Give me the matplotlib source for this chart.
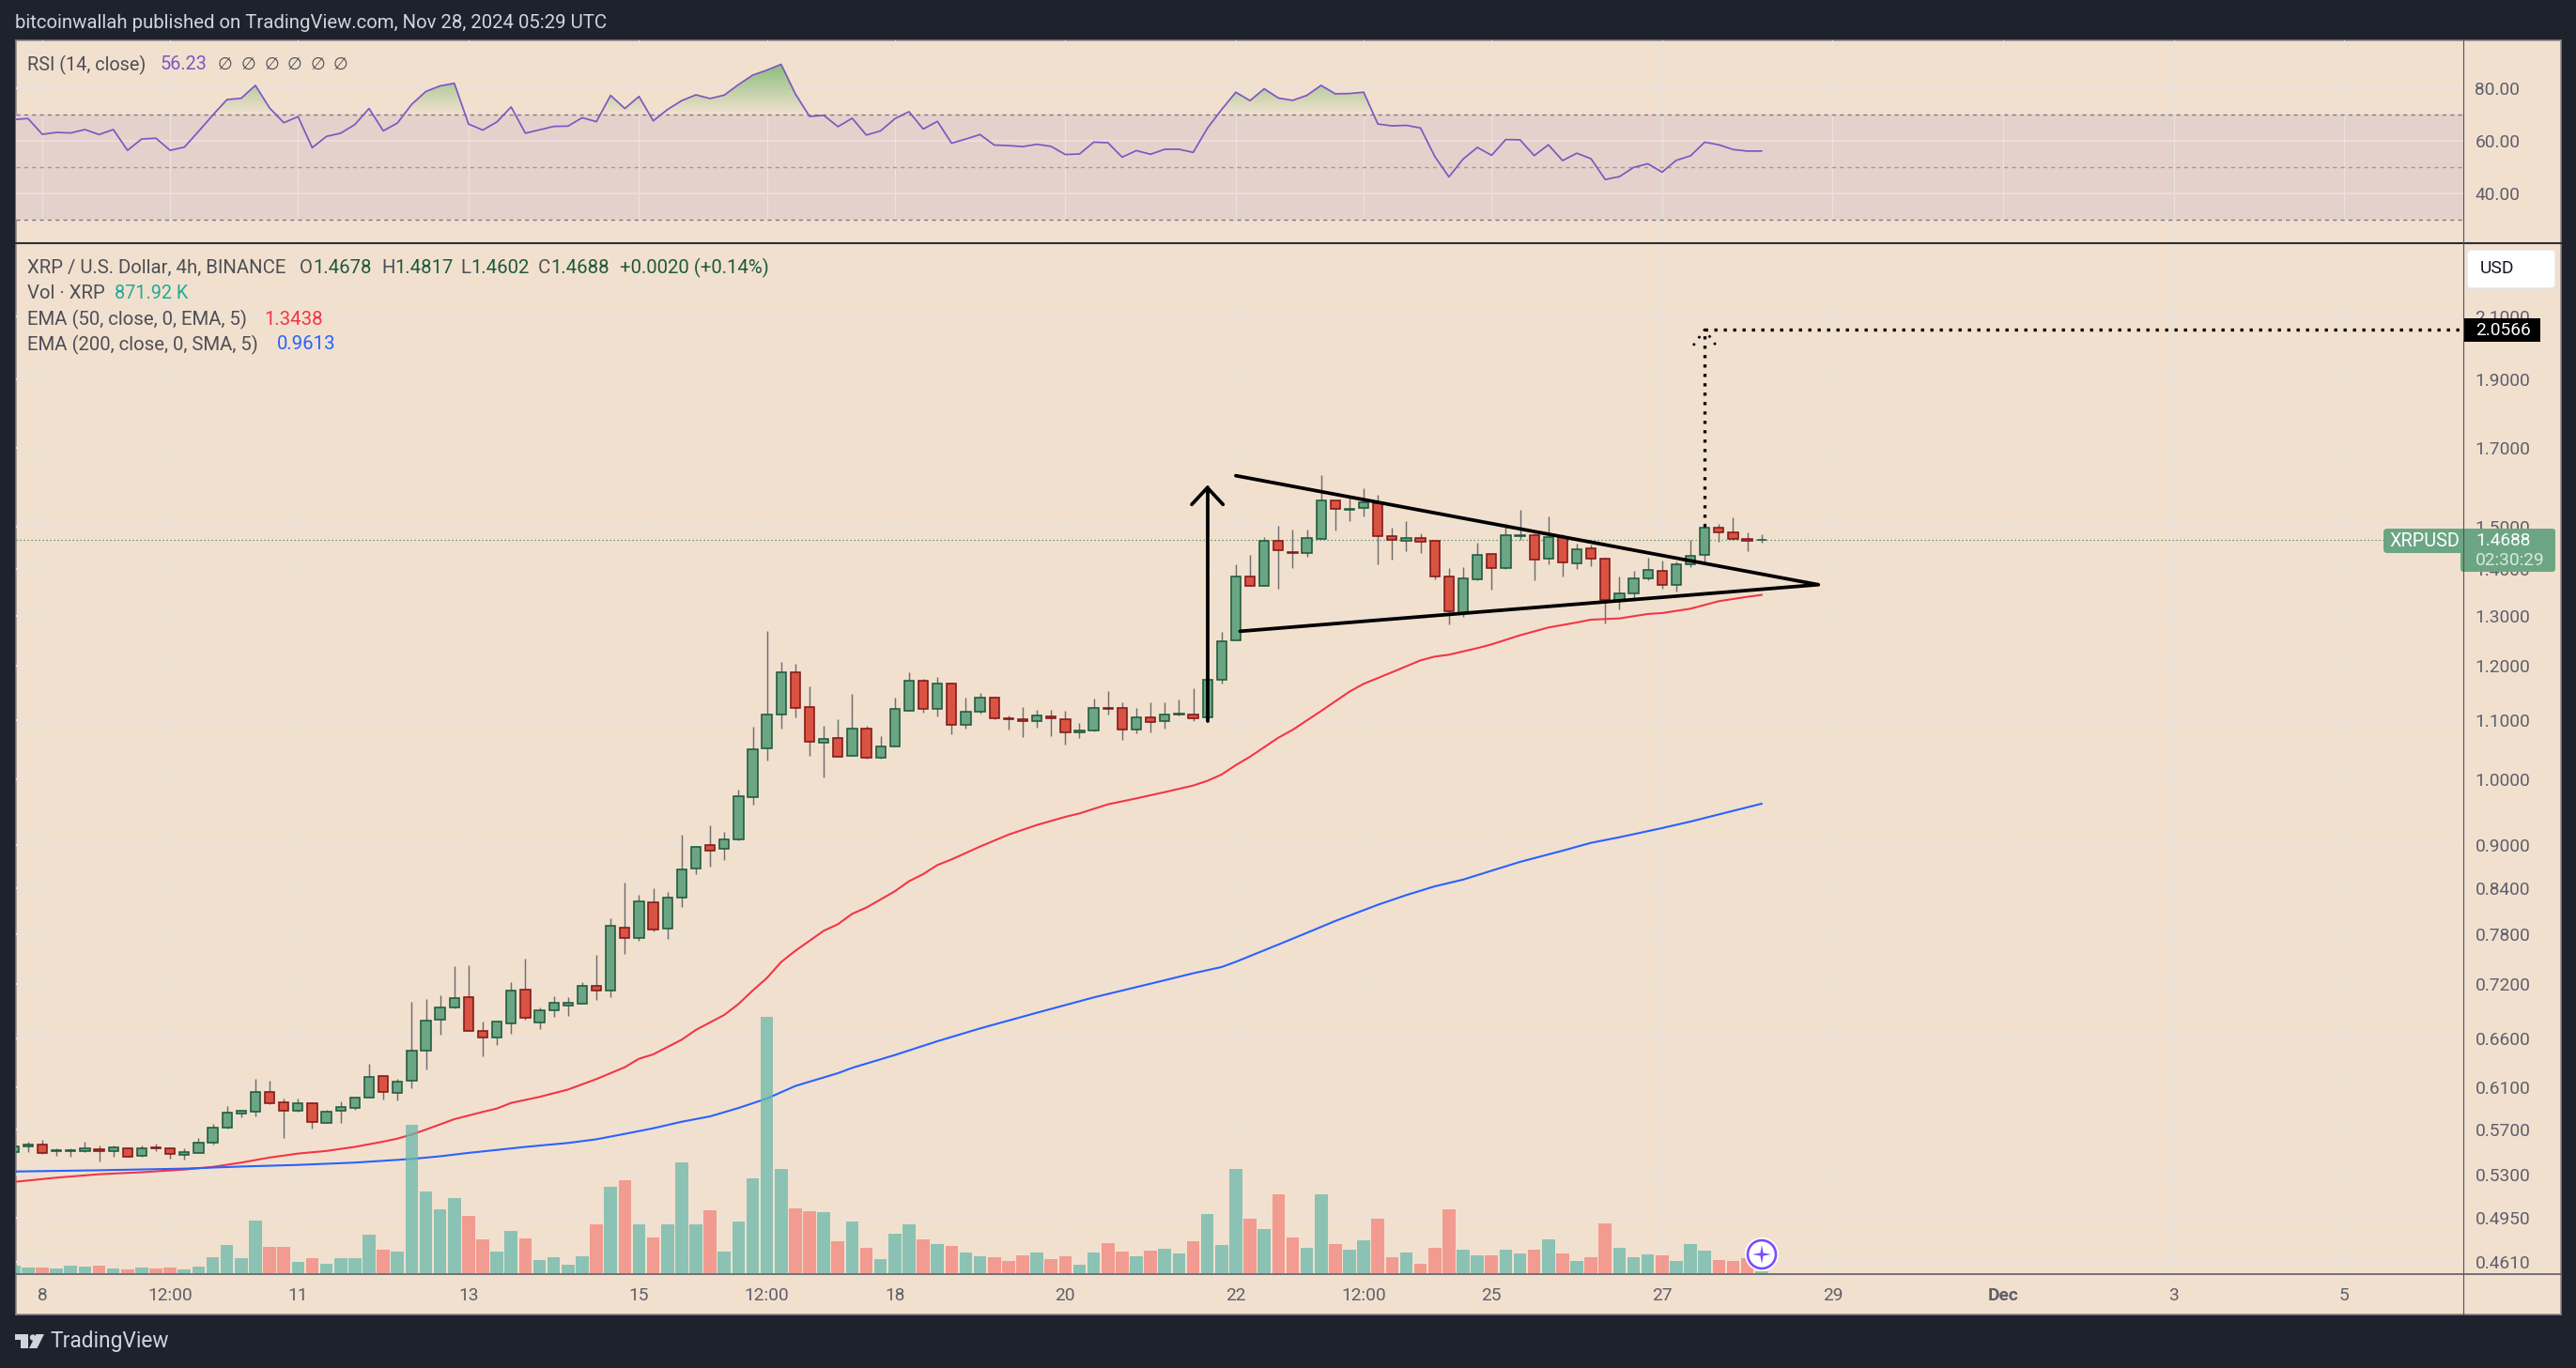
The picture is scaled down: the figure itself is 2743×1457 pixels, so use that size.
import numpy as np
import matplotlib
matplotlib.use('Agg')
import matplotlib.pyplot as plt
from matplotlib.patches import Rectangle, FancyBboxPatch, Polygon, Circle
from matplotlib.path import Path
from matplotlib.ticker import NullLocator

plt.rcParams['font.family'] = ['Roboto', 'DejaVu Sans']

W, H_PX = 2743, 1457

# ---------------- data -----------------
first_bar = -2
opens = [0.5499,0.5544,0.5562,0.5508,0.5508,0.5508,0.5523,0.5508,0.5529,0.5467,0.5541,0.5529,0.5476,0.5494,0.5585,0.5722,0.5852,0.5870,0.6052,0.5959,
0.5877,0.5943,0.5765,0.5877,0.5905,0.5997,0.6216,0.6049,0.6167,0.6471,0.6794,0.6937,0.7045,0.6682,0.6604,0.6761,0.7140,0.6772,0.6907,0.6956,
0.6978,0.7175,0.7129,0.7877,0.7747,0.8204,0.7865,0.8266,0.8661,0.8993,0.8939,0.9075,0.9711,1.0502,1.1087,1.1865,1.1221,1.0597,1.0677,1.0376,
1.0839,1.0345,1.0534,1.1154,1.1705,1.1188,1.1652,1.0905,1.1137,1.1392,1.1026,1.1004,1.0971,1.1054,1.1004,1.0774,1.0807,1.1210,1.1205,1.0823,
1.1037,1.0971,1.1098,1.1087,1.1037,1.1722,1.2488,1.3835,1.3642,1.4664,1.4387,1.4366,1.4709,1.5630,1.5412,1.5443,1.5559,1.4760,1.4664,1.4716,
1.4650,1.3835,1.3046,1.3772,1.4344,1.4024,1.4775,1.4783,1.4236,1.4738,1.4130,1.4474,1.4236,1.3304,1.3465,1.3793,1.3960,1.3649,1.4108,1.4322,
1.4962,1.4850,1.4694,1.4678]
highs = [0.5588,0.5588,0.5606,0.5529,0.5529,0.5588,0.5553,0.5553,0.5538,0.5553,0.5574,0.5538,0.5529,0.5624,0.5752,0.5918,0.5880,0.6183,0.6163,0.5991,
0.5991,0.5959,0.5880,0.5962,0.5997,0.6334,0.6216,0.6183,0.6997,0.7027,0.7072,0.7409,0.7421,0.6776,0.6776,0.7221,0.7497,0.6930,0.7060,0.7049,
0.7221,0.7545,0.7998,0.8471,0.8307,0.8395,0.8345,0.9148,0.8979,0.9287,0.9189,0.9834,1.0878,1.2684,1.2069,1.2032,1.1605,1.0894,1.1009,1.1466,
1.0894,1.0715,1.1397,1.1870,1.1746,1.1781,1.1652,1.1397,1.1484,1.1415,1.1070,1.1227,1.1176,1.1176,1.1160,1.0943,1.1380,1.1518,1.1312,1.1210,
1.1312,1.1312,1.1363,1.1570,1.2407,1.2666,1.4115,1.4330,1.4738,1.5015,1.4924,1.4924,1.6287,1.5630,1.5764,1.5947,1.5788,1.4962,1.5128,1.4827,
1.4650,1.4031,1.4052,1.4613,1.4344,1.5052,1.5404,1.4827,1.5242,1.4805,1.4591,1.4569,1.4258,1.3842,1.3967,1.4265,1.4201,1.4179,1.4672,1.5090,
1.5060,1.5219,1.4850,1.4817]
lows = [0.5494,0.5499,0.5485,0.5464,0.5455,0.5499,0.5418,0.5458,0.5453,0.5458,0.5508,0.5441,0.5435,0.5494,0.5568,0.5709,0.5817,0.5823,0.5934,0.5624,
0.5864,0.5709,0.5765,0.5762,0.5886,0.5997,0.5981,0.5972,0.6094,0.6280,0.6636,0.6922,0.6675,0.6416,0.6526,0.6646,0.6801,0.6700,0.6830,0.6841,
0.6978,0.7019,0.7049,0.7559,0.7720,0.7837,0.7743,0.8150,0.8591,0.8696,0.8788,0.9061,0.9604,1.0309,1.0850,1.1048,1.0387,1.0033,1.0361,1.0376,
1.0329,1.0329,1.0534,1.1154,1.1132,1.1065,1.0753,1.0850,1.1115,1.1004,1.0834,1.0704,1.0867,1.0720,1.0576,1.0688,1.0791,1.1098,1.0656,1.0769,
1.0785,1.0850,1.1070,1.0982,1.0960,1.1665,1.2488,1.3628,1.3642,1.3580,1.4031,1.4294,1.4709,1.4909,1.5136,1.5250,1.4123,1.4229,1.4423,1.4380,
1.3786,1.2825,1.2980,1.3752,1.3560,1.4017,1.4672,1.3766,1.4123,1.3849,1.4017,1.4080,1.2844,1.3131,1.3344,1.3752,1.3580,1.3512,1.4052,1.4137,
1.4642,1.4687,1.4423,1.4602]
closes = [0.5544,0.5562,0.5494,0.5514,0.5514,0.5529,0.5508,0.5538,0.5458,0.5529,0.5532,0.5485,0.5502,0.5585,0.5722,0.5855,0.5874,0.6052,0.5949,0.5877,
0.5943,0.5774,0.5870,0.5908,0.5997,0.6206,0.6059,0.6160,0.6474,0.6786,0.6930,0.7034,0.6675,0.6604,0.6776,0.7129,0.6823,0.6900,0.6982,0.6982,
0.7175,0.7129,0.7900,0.7747,0.8216,0.7853,0.8266,0.8648,0.8966,0.8912,0.9075,0.9726,1.0486,1.1087,1.1865,1.1205,1.0613,1.0661,1.0361,1.0839,
1.0345,1.0534,1.1188,1.1705,1.1188,1.1652,1.0905,1.1137,1.1392,1.1020,1.1015,1.0971,1.1070,1.1020,1.0774,1.0807,1.1205,1.1199,1.0823,1.1037,
1.0954,1.1087,1.1109,1.1032,1.1722,1.2469,1.3835,1.3628,1.4650,1.4431,1.4366,1.4716,1.5630,1.5435,1.5427,1.5583,1.4760,1.4687,1.4716,1.4642,
1.3835,1.3085,1.3793,1.4322,1.4024,1.4783,1.4790,1.4215,1.4738,1.4151,1.4452,1.4236,1.3324,1.3465,1.3793,1.3981,1.3649,1.4108,1.4301,1.4962,
1.4850,1.4694,1.4650,1.4688]
volume_m = [24,18,18,15,24,21,24,15,12,18,15,18,12,21,51,90,48,168,84,84,36,48,30,48,48,123,75,69,473,261,204,240,183,108,69,135,111,42,51,27,54,156,
276,297,156,114,156,354,156,201,69,165,303,819,333,207,198,195,102,165,81,45,126,156,108,93,87,66,54,51,39,57,66,45,54,27,66,96,69,54,72,78,63,102,
189,90,333,174,141,252,114,81,252,93,75,105,174,51,66,30,81,204,75,57,57,75,63,75,108,63,39,51,159,81,51,60,57,39,93,72,42,39,48,6]
rsi_vals = [68.2,68.6,62.6,63.3,63.1,64.4,62.5,64.4,56.5,60.8,61.1,56.5,57.7,63.7,69.9,75.8,76.3,81.2,72.6,67.0,69.3,57.5,61.8,63.0,66.3,72.4,63.9,66.9,74.0,78.9,81.0,82.0,
66.5,64.2,67.3,73.0,63.0,64.3,65.6,65.7,68.9,67.4,77.4,72.4,77.0,67.7,72.0,75.4,77.6,76.2,77.5,81.5,85.1,87.0,89.2,78.0,69.4,69.8,65.5,68.7,62.3,63.9,68.5,71.2,
64.6,67.5,59.2,60.8,62.5,58.5,58.3,57.9,58.8,58.0,54.9,55.1,59.6,59.4,53.9,56.4,55.0,56.9,56.9,55.7,64.9,72.0,78.6,75.4,79.9,76.4,75.5,77.4,81.2,78.0,78.1,78.6,
66.5,65.8,66.0,65.0,54.2,46.4,53.2,57.6,54.6,60.6,60.5,54.5,58.6,52.6,55.4,53.3,45.4,46.5,50.0,51.4,48.2,52.7,54.4,59.6,58.6,56.8,56.2,56.23]
ema50_x = [-2,1,4,7,10,12,14,16,18,20,22,24,25,26,27,29,31,32,33,35,37,39,41,42,43,45,46,48,49,50,51,52,53,55,56,57,58,60,61,62,63,64,66,68,70,72,73,75,77,79,
81,82,83,84,85,87,88,90,92,93,95,97,98,99,101,102,104,106,108,109,111,113,114,116,118,120,121]
ema50_vals = [0.5241,0.5277,0.5306,0.5323,0.5346,0.5369,0.5406,0.5450,0.5485,0.5508,0.5544,0.5591,0.5618,0.5655,0.5700,0.5796,0.5864,0.5896,0.5949,0.6007,
0.6078,0.6181,0.6300,0.6386,0.6431,0.6584,0.6688,0.6851,0.6972,0.7124,0.7269,0.7457,0.7593,0.7841,0.7924,0.8057,0.8138,0.8353,0.8489,0.8587,
0.8713,0.8792,0.8975,0.9148,0.9291,0.9413,0.9465,0.9604,0.9696,0.9794,0.9898,0.9973,1.0074,1.0227,1.0366,1.0688,1.0823,1.1154,1.1507,1.1652,
1.1871,1.2099,1.2172,1.2209,1.2339,1.2413,1.2595,1.2754,1.2857,1.2915,1.2941,1.3033,1.3052,1.3144,1.3304,1.3397,1.3438]
ema200_x = [-2,4,10,14,18,22,26,28,30,32,34,37,39,41,43,45,47,49,51,53,56,57,60,63,66,70,74,78,81,83,84,87,89,91,94,96,98,100,102,104,107,109,111,114,116,118,121]
ema200_vals = [0.5329,0.5340,0.5354,0.5372,0.5386,0.5406,0.5438,0.5461,0.5491,0.5517,0.5544,0.5579,0.5612,0.5661,0.5712,0.5772,0.5822,0.5901,0.5991,0.6113,0.6240,
0.6293,0.6424,0.6568,0.6704,0.6875,0.7046,0.7203,0.7324,0.7398,0.7460,0.7670,0.7815,0.7965,0.8175,0.8303,0.8420,0.8512,0.8634,0.8757,0.8916,0.9029,0.9110,0.9245,0.9342,0.9450,0.9613]
price_ticks = [2.1,1.9,1.7,1.5,1.4,1.3,1.2,1.1,1.0,0.9,0.84,0.78,0.72,0.66,0.61,0.57,0.53,0.495,0.461]
rsi_ticks = [80,60,40]
time_ticks = [0,9,18,30,42,51,60,72,84,93,102,114,126,138,150,162]
time_labels = ['8','12:00','11','13','15','12:00','18','20','22','12:00','25','27','29','Dec','3','5']
triangle_x = [84,125,84.3]
triangle_y = [1.627,1.366,1.2677]
pole_x = [82,82]
pole_y = [1.097,1.596]
head_x = [80.9,82,83.1]
head_y = [1.5536,1.596,1.5536]
target_price = 2.0566
target_x = 117
target_start = 1.5
target_head_x = [116.2,117,117.8]
target_head_y = [2.005,2.0566,2.005]

# ---------------- colours ---------------
BG = '#f2e0cf'; DARK = '#1e222d'
GREEN = '#6ca584'; GEDGE = '#1c5a3c'; RED = '#d95342'; REDGE = '#801818'
VG = '#6ab8aa'; VR = '#f2847b'; WICK = '#6f6e6c'
GRID = '#eae3dc'; TXT = '#4e4f55'; AX = '#5d606b'

x = np.arange(first_bar, first_bar + len(closes))
o, h, l, c = map(np.array, (opens, highs, lows, closes))
up = c >= o
rsi = np.array(rsi_vals)

fig = plt.figure(figsize=(W/100, H_PX/100), dpi=100, facecolor=DARK)

def axes_px(x0, y0, x1, y1, **kw):
    return fig.add_axes([x0/W, 1-y1/H_PX, (x1-x0)/W, (y1-y0)/H_PX], **kw)

XL, XR = 16.5, 2622.7
xlim = ((XL-45)/15.13, (XR-45)/15.13)
plim = (0.461*np.exp((1344-1357)/664), 0.461*np.exp((1344-259)/664))

bg = axes_px(16.5, 43, 2726.5, 1400)
bg.set_facecolor(BG); bg.set_xticks([]); bg.set_yticks([])
for s in bg.spines.values():
    s.set_color('#8a8782'); s.set_linewidth(1.1)
bg.set_zorder(0)

# ---------------- RSI -------------------
ar = axes_px(XL, 43, XR, 259)
ar.set_zorder(1); ar.patch.set_alpha(0)
ar.set_xlim(*xlim); ar.set_ylim(21.18, 98.32)
ar.axhspan(30, 70, color='#e5d1cb', lw=0, zorder=0.5)
for t in time_ticks:
    ar.axvline(t, color=GRID, lw=0.8, zorder=0.6)
for v in rsi_ticks:
    ar.axhline(v, color='#e9e0dd', lw=1.3, zorder=0.7)
poly = ar.fill_between(x, 70, rsi, where=rsi >= 70, interpolate=True, color='none', lw=0)
clip = Path.make_compound_path(*poly.get_paths())
grad = np.zeros((64, 2, 4))
grad[..., :3] = matplotlib.colors.to_rgb('#80bd74')
grad[..., 3] = np.linspace(0.95, 0.0, 64)[:, None]
im = ar.imshow(grad, extent=[x[0], x[-1], 70, 89.5], aspect='auto', origin='upper', zorder=1)
im.set_clip_path(clip, ar.transData)
ar.set_xlim(*xlim); ar.set_ylim(21.18, 98.32)
ar.axhline(70, color='#787b86', lw=1.0, ls=(0, (3, 3)), zorder=1.5)
ar.axhline(50, color='#9d9c9c', lw=1.0, ls=(0, (3, 3)), zorder=1.5)
ar.axhline(30, color='#787b86', lw=1.0, ls=(0, (3, 3)), zorder=1.5)
ar.plot(x, rsi, color='#7e57c2', lw=1.25, zorder=2)
ar.set_yticks(rsi_ticks); ar.set_yticklabels(['%.2f' % v for v in rsi_ticks])
ar.yaxis.tick_right()
ar.tick_params(axis='y', length=0, pad=9.2, labelsize=13.8, labelcolor=AX)
ar.set_xticks([])
for s in ar.spines.values():
    s.set_visible(False)

# ---------------- price: grid and averages below the volume ---------------
ag = axes_px(XL, 259, XR, 1357)
ag.set_zorder(1.2); ag.patch.set_alpha(0)
ag.set_yscale('log'); ag.set_xlim(*xlim); ag.set_ylim(*plim)
ag.axis('off')
for t in time_ticks:
    ag.axvline(t, color=GRID, lw=0.8, zorder=0.6)
for v in price_ticks:
    ag.axhline(v, color=GRID, lw=1.25, zorder=0.7)
ag.axhline(c[-1], color='#3f8a5c', lw=0.9, ls=(0, (1, 2.2)), zorder=0.8)
ag.plot(ema50_x, ema50_vals, color='#f23645', lw=1.5, zorder=2)
ag.plot(ema200_x, ema200_vals, color='#2962ff', lw=1.5, zorder=2)

# ---------------- volume -----------------
av = axes_px(XL, 259, XR, 1357)
av.set_zorder(1.5); av.patch.set_alpha(0)
av.set_xlim(*xlim); av.set_ylim(-3, 3291)
av.bar(x, volume_m, width=0.9, color=[VG if u else VR for u in up], lw=0, alpha=0.75)
av.set_xticks([]); av.set_yticks([])
for s in av.spines.values():
    s.set_visible(False)

# ---------------- candles and drawings -----------------
ap = axes_px(XL, 259, XR, 1357)
ap.set_zorder(2); ap.patch.set_alpha(0)
ap.set_yscale('log'); ap.set_xlim(*xlim); ap.set_ylim(*plim)
ap.vlines(x, l, h, color=WICK, lw=1.05, zorder=3)
ap.bar(x, np.abs(c-o), bottom=np.minimum(o, c), width=0.68,
       color=[GREEN if u else RED for u in up],
       edgecolor=[GEDGE if u else REDGE for u in up], lw=1.15, zorder=4)

lk = dict(color='black', lw=2.7, solid_capstyle='round', solid_joinstyle='round', zorder=6)
ap.plot(triangle_x, triangle_y, **lk)
ap.plot(pole_x, pole_y, **lk)
ap.plot(head_x, head_y, **lk)
dk = dict(color='black', lw=2.4, ls=(0, (1, 2)), zorder=6)
ap.plot([target_x, target_x], [target_start, target_price], **dk)
ap.plot([target_x, xlim[1]], [target_price, target_price], **dk)
ap.plot(target_head_x, target_head_y, color='black', lw=1.9, ls=(0, (1, 2.6)), zorder=6)

ap.set_yticks(price_ticks)
ap.set_yticklabels(['%.4f' % v for v in price_ticks])
ap.yaxis.set_minor_locator(NullLocator())
ap.yaxis.tick_right()
ap.tick_params(axis='y', which='both', length=0, pad=9.2, labelsize=13.8, labelcolor=AX)
ap.set_xticks(time_ticks); ap.set_xticklabels(time_labels)
ap.tick_params(axis='x', length=0, pad=10, labelsize=13.8, labelcolor=AX)
for lab, t in zip(ap.get_xticklabels(), time_labels):
    if t == 'Dec':
        lab.set_fontweight('bold')
for s in ap.spines.values():
    s.set_visible(False)

# ---------------- overlay ---------------
ov = fig.add_axes([0, 0, 1, 1]); ov.set_zorder(5)
ov.set_xlim(0, W); ov.set_ylim(H_PX, 0); ov.axis('off')
ov.plot([16.5, 2726.5], [259, 259], color='#2a2e39', lw=1.5)
ov.plot([16.5, 2726.5], [1357, 1357], color='#50535e', lw=1.1)
ov.plot([XR, XR], [43, 1400], color='#50535e', lw=0.8)

def T(px, py, s, color=TXT, size=14.7, **kw):
    return ov.text(px, py, s, color=color, fontsize=size, va='center', ha=kw.pop('ha', 'left'), **kw)

T(16, 25, 'bitcoinwallah published on TradingView.com, Nov 28, 2024 05:29 UTC', color='#d1d4dc', size=14.7)
T(29, 69, 'RSI (14, close)', size=14.3)
T(170, 69, '56.23', color='#7e57c2', size=14.3)
for px_ in (239, 264, 289, 313, 338, 362):
    T(px_, 69, '\u2205', size=13, ha='center')
T(29, 285.5, 'XRP / U.S. Dollar, 4h, BINANCE')
VALC = '#1e5a3c'
for px_, key, val in [(319, 'O', '1.4678'), (406, 'H', '1.4817'), (490, 'L', '1.4602'), (573, 'C', '1.4688')]:
    t = T(px_, 285.5, key)
    ov.annotate(val, xy=(1, 0.5), xycoords=t, xytext=(0, 0), textcoords='offset points',
                va='center', ha='left', color=VALC, fontsize=14.7)
T(660, 285.5, '+0.0020 (+0.14%)', color=VALC)
T(29, 313, 'Vol \u00b7 XRP')
T(122, 313, '871.92 K', color='#22ab94', size=14.3)
T(29, 340, 'EMA (50, close, 0, EMA, 5)')
T(281, 340, '1.3438', color='#f23645')
T(29, 367, 'EMA (200, close, 0, SMA, 5)')
T(294.5, 367, '0.9613', color='#2962ff')

ov.add_patch(FancyBboxPatch((2630, 269), 88, 35, boxstyle='round,pad=3,rounding_size=5', fc='white', ec='#e3e5ea', lw=1))
T(2641, 286, 'USD', color='#131722', size=13.8)

ov.add_patch(FancyBboxPatch((2540, 565), 84, 22, boxstyle='round,pad=2,rounding_size=4', fc=GREEN, ec='none'))
ov.add_patch(FancyBboxPatch((2622, 565), 97, 42, boxstyle='round,pad=2,rounding_size=3', fc=GREEN, ec='none'))
T(2544, 576, 'XRPUSD', color='white', size=14.3)
T(2636, 576, '1.4688', color='white', size=13.8)
T(2636, 597, '02:30:29', color='#d8e8de', size=13.8)

ov.add_patch(Rectangle((2622.7, 339), 82, 25, fc='black', ec='none'))
T(2636, 352, '2.0566', color='white', size=13.8)

# sparkle badge
ov.add_patch(Circle((1876, 1336), 18, fc='white', ec='none'))
ov.add_patch(Circle((1876, 1336), 15, fc='white', ec='#7b4dff', lw=1.9))
cx, cy, R1, R2 = 1876, 1336, 10, 2.2
pts = []
for k in range(8):
    a = np.pi/4*k
    r = R1 if k % 2 == 0 else R2
    pts.append((cx+r*np.cos(a), cy+r*np.sin(a)))
ov.add_patch(Polygon(pts, fc='#7b4dff', ec='none'))

# TradingView logo
LC = '#d1d4dc'
ov.add_patch(Polygon([(16, 1421), (30, 1421), (30, 1436), (22, 1436), (22, 1427), (16, 1427)], fc=LC, ec='none'))
ov.add_patch(Circle((35, 1424.5), 3.2, fc=LC, ec='none'))
ov.add_patch(Polygon([(47, 1421), (39.5, 1436), (31, 1436), (38.5, 1421)], fc=LC, ec='none'))
T(53.5, 1429, 'TradingView', color=LC, size=16.4)

fig.savefig('out.png', dpi=100, facecolor=DARK)
